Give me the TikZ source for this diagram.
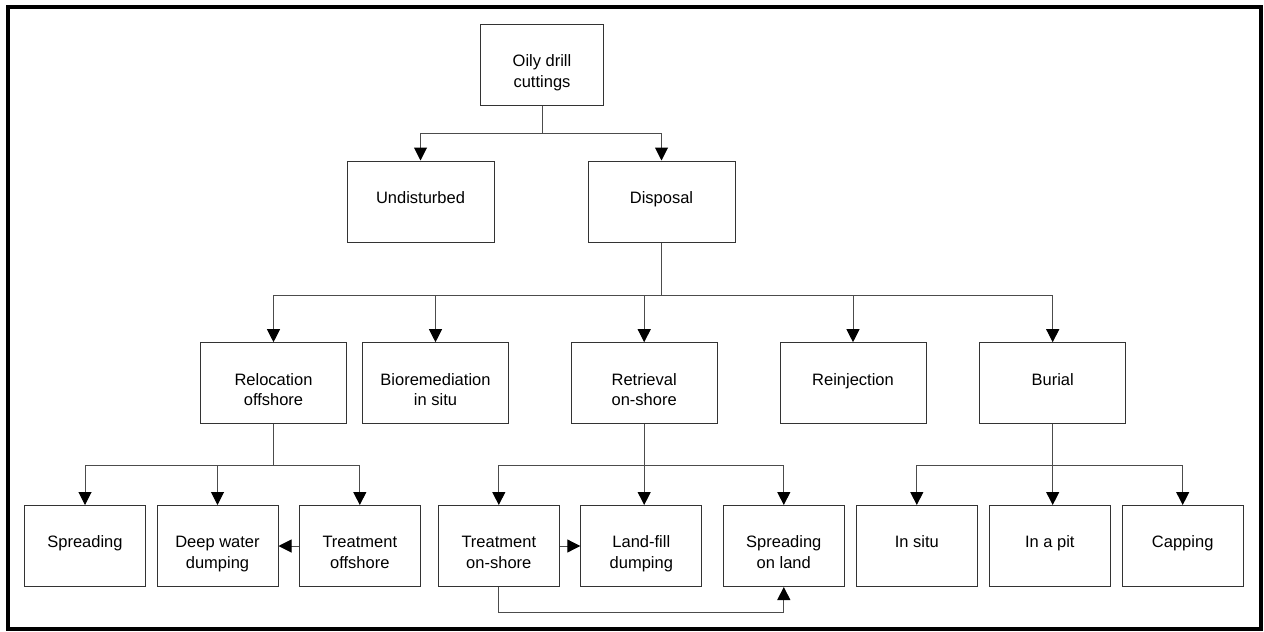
\documentclass[tikz,border=0pt]{standalone}
\usepackage{fontspec}
\setmainfont{Liberation Sans}
\usepackage{tikz}
\usetikzlibrary{arrows.meta}

\begin{document}
\begin{tikzpicture}[x=0.5pt,y=-0.5pt,
  box/.style={draw=black!80,line width=0.5pt,minimum height=40.5pt,align=center,
    text height=8pt,text depth=6.2pt,font=\fontsize{8.25}{10.4}\selectfont},
  pair/.style={text height=24pt,text depth=1.4pt},
  topbox/.style={box,minimum width=73.5pt},
  midbox/.style={box,minimum width=73pt},
  lowbox/.style={box,minimum width=60.5pt},
  link/.style={draw=black!70,line width=0.5pt},
  arr/.style={link,-{Triangle[length=6.5pt,width=6.5pt,color=black]}}]
\useasboundingbox (0,0) rectangle (1264,632);
\draw[line width=2.25pt] (8,7) rectangle (1261,629);
\node[box,pair,minimum width=61.5pt] (oily) at (542,64.5) {Oily drill\\cuttings};
\node[topbox] (undist) at (420.5,201.5) {Undisturbed};
\node[topbox] (disp) at (661.5,201.5) {Disposal};
\node[midbox,pair] (reloc) at (273.5,383.2) {Relocation\\offshore};
\node[midbox,pair] (bio) at (435.5,383.2) {Bioremediation\\in situ};
\node[midbox,pair] (retr) at (644.2,383.2) {Retrieval\\on-shore};
\node[midbox] (reinj) at (853,383.2) {Reinjection};
\node[midbox] (burial) at (1052.7,383.2) {Burial};
\node[lowbox] (spread) at (85,546) {Spreading};
\node[lowbox,pair] (deep) at (217.5,546) {Deep water\\dumping};
\node[lowbox,pair] (treatoff) at (359.8,546) {Treatment\\offshore};
\node[lowbox,pair] (treaton) at (498.8,546) {Treatment\\on-shore};
\node[lowbox,pair] (landfill) at (641.3,546) {Land-fill\\dumping};
\node[lowbox,pair] (spreadland) at (783.8,546) {Spreading\\on land};
\node[lowbox] (insitu) at (916.8,546) {In situ};
\node[lowbox] (pit) at (1049.8,546) {In a pit};
\node[lowbox] (capping) at (1182.7,546) {Capping};
\draw[link] (oily.south) -- ++(0,28) coordinate (oj);
\draw[arr] (oj) -| (undist);
\draw[arr] (oj) -| (disp);
\draw[link] (disp.south) -- ++(0,53) coordinate (dj);
\foreach \n in {reloc,bio,retr,reinj,burial}
  \draw[arr] (dj) -| (\n);
\draw[link] (reloc.south) -- ++(0,41) coordinate (rj);
\foreach \n in {spread,deep,treatoff}
  \draw[arr] (rj) -| (\n);
\draw[link] (retr.south) -- ++(0,41) coordinate (tj);
\draw[arr] (tj) -| (treaton);
\draw[arr] (tj) -| (spreadland);
\draw[arr] (tj) -- (tj |- landfill.north);
\draw[link] (burial.south) -- ++(0,41) coordinate (bj);
\draw[arr] (bj) -| (insitu);
\draw[arr] (bj) -| (capping);
\draw[arr] (bj) -- (bj |- pit.north);
\draw[arr] (treatoff) -- (deep);
\draw[arr] (treaton) -- (landfill);
\draw[arr] (treaton.south) -- ++(0,25) -| (spreadland.south);
\end{tikzpicture}
\end{document}
